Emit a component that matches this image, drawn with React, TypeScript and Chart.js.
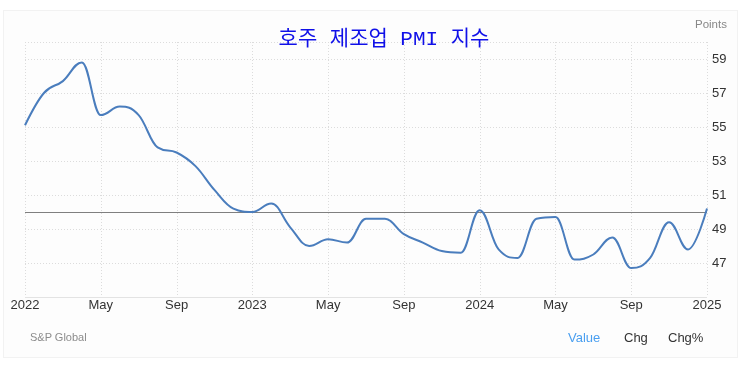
import React, { useEffect, useRef } from "react";
import { Chart, registerables } from "chart.js";

Chart.register(...registerables);

const months = [
  "2022", "Feb", "Mar", "Apr", "May", "Jun", "Jul", "Aug", "Sep", "Oct", "Nov", "Dec",
  "2023", "Feb", "Mar", "Apr", "May", "Jun", "Jul", "Aug", "Sep", "Oct", "Nov", "Dec",
  "2024", "Feb", "Mar", "Apr", "May", "Jun", "Jul", "Aug", "Sep", "Oct", "Nov", "Dec",
  "2025",
];

const pmiValues = [
  55.1, 57.0, 57.7, 58.8, 55.7, 56.2, 55.7, 53.8, 53.5, 52.7, 51.3, 50.2,
  50.0, 50.5, 49.1, 48.0, 48.4, 48.2, 49.6, 49.6, 48.7, 48.2, 47.7, 47.6,
  50.1, 47.8, 47.3, 49.6, 49.7, 47.2, 47.5, 48.5, 46.7, 47.3, 49.4, 47.8,
  50.2,
];

const yTickValues = [47, 49, 51, 53, 55, 57, 59];
const yMin = 45;
const yMax = 60;
const referenceLevel = 50;
const labelEvery = 4;

const title = "호주 제조업 PMI 지수";
const unitLabel = "Points";
const sourceLabel = "S&P Global";
const modeLabels = ["Value", "Chg", "Chg%"];

// dotted grid drawn from the scales' own tick pixels
const gridPlugin = {
  id: "dottedGrid",
  beforeDatasetsDraw(chart: any) {
    const { ctx, chartArea, scales } = chart;
    const { left, right, top, bottom } = chartArea;
    ctx.save();
    ctx.lineWidth = 1;
    ctx.strokeStyle = "#dcdcdc";
    ctx.setLineDash([1, 2]);
    ctx.beginPath();
    scales.x.ticks.forEach((_t: any, i: number) => {
      if (i % labelEvery !== 0) return;
      const x = Math.round(scales.x.getPixelForTick(i)) + 0.5;
      ctx.moveTo(x, top);
      ctx.lineTo(x, bottom);
    });
    [...yTickValues, yMax].forEach((v) => {
      const y = Math.round(scales.y.getPixelForValue(v)) + 0.5;
      ctx.moveTo(left, y);
      ctx.lineTo(right, y);
    });
    ctx.stroke();
    ctx.setLineDash([]);
    ctx.strokeStyle = "#e3e3e3";
    ctx.beginPath();
    const yb = Math.round(scales.y.getPixelForValue(yMin)) + 0.5;
    ctx.moveTo(left, yb);
    ctx.lineTo(right, yb);
    ctx.stroke();
    // reference level line
    const y = Math.round(scales.y.getPixelForValue(referenceLevel)) + 0.5;
    ctx.strokeStyle = "#7f7f7f";
    ctx.beginPath();
    ctx.moveTo(left, y);
    ctx.lineTo(right, y);
    ctx.stroke();
    ctx.restore();

    // spline smoothing like the source (smoothing 1.5, no overshoot at extremes)
    chart.data.datasets.forEach((_d: any, di: number) => {
      const meta = chart.getDatasetMeta(di);
      const line = meta.dataset;
      if (!line) return;
      line.updateControlPoints(chartArea, "x");
      const pts = meta.data;
      const smoothing = 1.5;
      const denom = smoothing + 1;
      for (let i = 0; i < pts.length; i++) {
        const p = pts[i];
        const prev = pts[i - 1];
        const next = pts[i + 1];
        if (!prev || !next) {
          p.cp1x = p.x; p.cp1y = p.y; p.cp2x = p.x; p.cp2y = p.y;
          continue;
        }
        let lcx = (smoothing * p.x + prev.x) / denom;
        let lcy = (smoothing * p.y + prev.y) / denom;
        const rcx = (smoothing * p.x + next.x) / denom;
        let rcy = (smoothing * p.y + next.y) / denom;
        let corr = 0;
        if (rcx !== lcx) corr = ((rcy - lcy) * (rcx - p.x)) / (rcx - lcx) + p.y - rcy;
        lcy += corr;
        rcy += corr;
        if (lcy > prev.y && lcy > p.y) { lcy = Math.max(prev.y, p.y); rcy = 2 * p.y - lcy; }
        else if (lcy < prev.y && lcy < p.y) { lcy = Math.min(prev.y, p.y); rcy = 2 * p.y - lcy; }
        if (rcy > next.y && rcy > p.y) { rcy = Math.max(next.y, p.y); lcy = 2 * p.y - rcy; }
        else if (rcy < next.y && rcy < p.y) { rcy = Math.min(next.y, p.y); lcy = 2 * p.y - rcy; }
        p.cp1x = lcx; p.cp1y = lcy; p.cp2x = rcx; p.cp2y = rcy;
      }
      line._path = undefined;
    });
  },
};

export default function App() {
  const canvasRef = useRef<HTMLCanvasElement | null>(null);

  useEffect(() => {
    const canvas = canvasRef.current;
    if (!canvas) return;
    const font = { family: "'Liberation Sans', Arial, sans-serif", size: 13 };
    const chart = new Chart(canvas, {
      type: "line",
      data: {
        labels: months,
        datasets: [
          {
            data: pmiValues,
            borderColor: "#4a7dbd",
            borderWidth: 2,
            pointRadius: 0,
            pointHoverRadius: 0,
            tension: 0.4,
            fill: false,
          },
        ],
      },
      options: {
        responsive: false,
        animation: false,
        events: [],
        layout: { padding: { left: 25, top: 42, right: 0, bottom: 0 } },
        plugins: {
          legend: { display: false },
          title: { display: false },
          tooltip: { enabled: false },
        },
        scales: {
          x: {
            type: "category",
            offset: false,
            border: { display: false },
            grid: { color: "rgba(0,0,0,0)", drawTicks: false },
            ticks: {
              autoSkip: false,
              maxRotation: 0,
              minRotation: 0,
              padding: 1,
              color: "#333333",
              font,
              callback: (_v: any, i: number) => (i % labelEvery === 0 ? months[i] : ""),
            },
            afterFit: (scale: any) => {
              scale.height = 84;
            },
          },
          y: {
            type: "linear",
            position: "right",
            min: yMin,
            max: yMax,
            border: { display: false },
            grid: { color: "rgba(0,0,0,0)", drawTicks: false },
            afterBuildTicks: (scale: any) => {
              scale.ticks = [yMin, ...yTickValues, yMax].map((v) => ({ value: v }));
            },
            ticks: {
              padding: 5,
              color: "#333333",
              font,
              callback: (v: any) => (yTickValues.includes(Number(v)) ? String(v) : ""),
            },
            afterFit: (scale: any) => {
              scale.width = 34;
            },
          },
        },
      } as any,
      plugins: [gridPlugin],
    });
    return () => chart.destroy();
  }, []);

  const txt = (extra: React.CSSProperties): React.CSSProperties => ({
    position: "absolute",
    whiteSpace: "nowrap",
    fontFamily: "'Liberation Sans', Arial, sans-serif",
    lineHeight: 1,
    ...extra,
  });

  return (
    <div style={{ position: "absolute", left: 0, top: 0, width: 741, height: 381, background: "#ffffff" }}>
      <div
        style={{
          position: "absolute",
          left: 3,
          top: 10,
          width: 733,
          height: 346,
          background: "#fdfdfd",
          border: "1px solid #f2f2f2",
        }}
      />
      <canvas ref={canvasRef} width={741} height={381} style={{ position: "absolute", left: 0, top: 0, width: 741, height: 381 }} />
      <div
        style={txt({
          left: 384,
          top: 39,
          transform: "translate(-50%, -50%)",
          fontFamily: "'Liberation Mono', 'Noto Sans CJK KR', monospace",
          fontSize: 21,
          color: "#1010e8",
        })}
      >
        {title}
      </div>
      <div style={txt({ left: 695, top: 19, fontSize: 11.5, color: "#888888" })}>{unitLabel}</div>
      <div style={txt({ left: 30, top: 332, fontSize: 11, color: "#8c8c8c" })}>{sourceLabel}</div>
      <div style={txt({ left: 568, top: 331, fontSize: 13, color: "#4a9ff0" })}>{modeLabels[0]}</div>
      <div style={txt({ left: 624, top: 331, fontSize: 13, color: "#333333" })}>{modeLabels[1]}</div>
      <div style={txt({ left: 668, top: 331, fontSize: 13, color: "#333333" })}>{modeLabels[2]}</div>
    </div>
  );
}
